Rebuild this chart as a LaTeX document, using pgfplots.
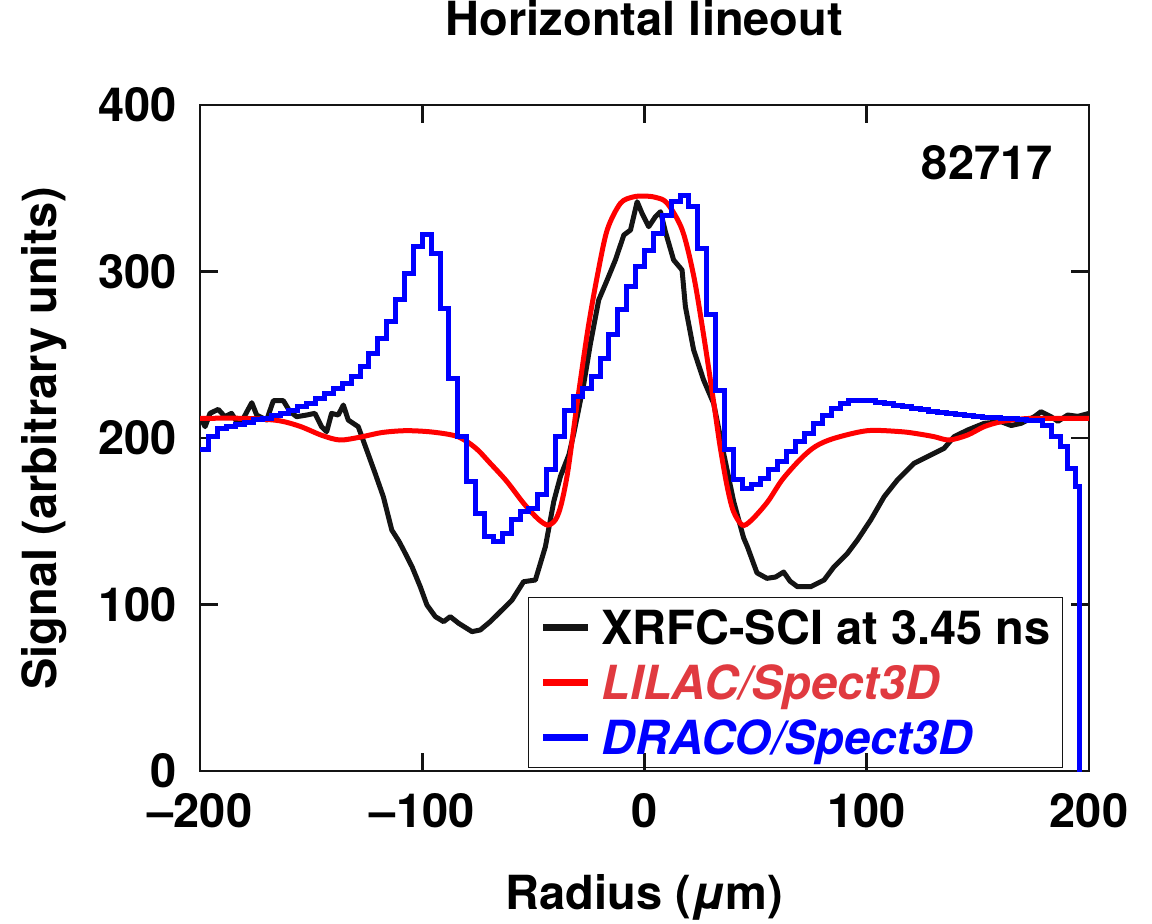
\documentclass[border=0pt]{standalone}
\usepackage{fontspec}
\setmainfont{TeX Gyre Heros}
\usepackage{pgfplots}
\pgfplotsset{compat=1.18}
\definecolor{cblue}{RGB}{0,0,255}
\definecolor{cred}{RGB}{255,0,0}
\definecolor{ctxtred}{RGB}{224,58,64}
\definecolor{cblack}{RGB}{20,20,20}
\newcommand{\F}{\fontsize{23.5}{28}\selectfont\bfseries}
\begin{document}
\begin{tikzpicture}
\begin{axis}[name=ax, scale only axis, width=444.5pt, height=333pt,
 xmin=-200, xmax=200, ymin=0, ymax=400,
 xtick={-200,-100,0,100,200},
 xticklabels={\textendash200,\textendash100,0,100,200},
 ytick={0,100,200,300,400},
 tick align=inside, major tick length=9pt,
 axis line style={line width=1.3pt, draw=cblack},
 every tick/.style={line width=1.3pt, draw=cblack},
 /pgf/number format/assume math mode=true,
 ticklabel style={font=\F},
 xticklabel style={anchor=north, inner sep=0pt, yshift=-11pt},
 yticklabel style={anchor=east, inner sep=0pt, xshift=-11.5pt},
 title={Horizontal lineout},
 title style={font=\F, at={(axis description cs:0.5,1.087)}, anchor=base},
 xlabel={Radius ({\itshape μ}m)},
 xlabel style={font=\F, at={(axis description cs:0.5,-0.2087)}, anchor=base},
 ylabel={Signal (arbitrary units)},
 ylabel style={font=\F, at={(axis description cs:-0.1757,0.5)}, anchor=center},
 legend style={at={(rel axis cs:0.9707,0.0045)}, anchor=south east, draw=cblack,
   fill=none, font=\F, inner xsep=6pt, inner ysep=6.5pt,
   row sep=10.5pt, nodes={inner sep=0pt, text height=17pt, text depth=0pt},
   /tikz/every odd column/.append style={column sep=5pt}},
 legend cell align=left,
 legend image code/.code={\draw[#1, line width=3.2pt] (0pt,0pt) -- (22.5pt,0pt);},
]
% XRFC-SCI data
\addplot[cblack, line width=2.5pt, line join=round] coordinates {
(-200,212) (-199.2,210.8) (-197.7,206.8) (-195.5,214.8) (-191.8,217.2) (-188.8,212.8)
(-185.8,214.8) (-183.5,209.8) (-180.5,211.8) (-176.7,221.2) (-174.5,213.8) (-170,210.8)
(-167,222.4) (-162.5,222.4) (-159.5,215.8) (-156.5,212.8) (-152,213.8) (-148.3,214.8)
(-145.3,206.8) (-143,203.8) (-140.8,214.8) (-137.8,213.8) (-135.5,219.8) (-133.3,210.8)
(-128.8,206.8) (-125,192.8) (-121.2,178.8) (-117.5,164.7) (-113.7,144.7) (-110.5,138)
(-108.4,132.7) (-104.6,122.7) (-100.9,110.7) (-97.9,99.7) (-94.1,92.7) (-90.4,89.7)
(-87.4,92.7) (-83.6,88.7) (-77.6,83.7) (-73.9,84.7) (-69.4,89.7) (-64.1,96.7)
(-59.6,102.7) (-54.4,113.7) (-49.1,114.7) (-44.6,134.7) (-40.8,162) (-37.8,177)
(-34,190) (-31.8,202.8) (-27.3,232.8) (-24.3,256.9) (-20.6,282.9) (-16.8,294.9)
(-13.1,306.9) (-9.3,321.9) (-6.3,324.9) (-3.3,341.9) (-1.1,334.9) (1.9,326.9)
(4.9,332.9) (7.2,335.9) (9.4,323.9) (13.1,306.9) (16.9,300.9) (18.4,278.9)
(22.1,252.9) (26.6,234.8) (31.1,220.8) (35.6,190.8) (40.1,162) (44.6,140)
(46.3,134.7) (50.6,119) (55.1,115.7) (59,116.5) (62.6,119.5) (65.5,114)
(68.8,110.7) (74.8,110.7) (80.8,114.7) (85.3,122.7) (91.3,130.7) (95.8,138.7)
(101.8,150.8) (107.8,164.7) (113.8,174.8) (121.3,184.8) (128.8,189.8) (134.8,193.8)
(139.3,200.8) (145.4,204.8) (152.8,208.8) (160.4,209.8) (165,207.5) (169.4,208.8)
(175.4,212.8) (178.4,215.8) (182.9,212.8) (186,210) (190.4,213.8) (195,213) (200.1,214.8)
};
\addlegendentry{XRFC-SCI at 3.45 ns}
% LILAC/Spect3D
\addplot[cred, line width=2.5pt, smooth, tension=0.5] coordinates {
(-200,211.8) (-180,211.8) (-165,210.5) (-155,207) (-145,201.5) (-137,198.8)
(-128,200.5) (-118,203.3) (-107,204.4) (-95,203.5) (-84,200.8) (-76,194)
(-69.4,184.8) (-62,174) (-54.4,160.8) (-48,151.5) (-43.5,147.7) (-40,151)
(-37.5,160) (-34.5,180) (-30.3,220.8) (-25.5,265) (-21.3,296.9) (-16.8,324.9)
(-10.8,341) (-5,344.8) (0,345.3) (5,344.5) (10.2,341) (17,324.9) (22.2,296.9)
(26.7,260.9) (31.2,220.8) (34,195) (37.2,170.8) (40,156) (44,147.7) (48,150.5)
(55.3,161.5) (62,175) (70.3,187.5) (77,195) (85.3,199.8) (100.3,204.4) (115.3,203.8)
(123,202.5) (130.3,200.8) (137.1,198.8) (145.4,201.8) (152.8,206.8) (160.4,209.8)
(168,211.2) (175.4,211.8) (200,211.8)
};
\addlegendentry{\textcolor{ctxtred}{\itshape LILAC/Spect3D}}
% DRACO/Spect3D
\addplot[cblue, line width=2.5pt, const plot] coordinates {
(-200,192.8) (-196,200.8) (-192,205.8) (-188,207) (-184,208) (-180,209.5) (-176,211)
(-172,212) (-168,213.5) (-164,215) (-160,216.5) (-156,218.8) (-152,221) (-148,223.8)
(-144,226.8) (-140,229.8) (-136,232.8) (-132,236.8) (-128,242.8) (-124,250.8)
(-120,259.8) (-116,269.9) (-112,282.9) (-108,298.5) (-104,314.9) (-100,322.5)
(-96,310.9) (-92,277.9) (-88,235.8) (-84,200.8) (-80,173.7) (-76,154.8) (-72,140.7)
(-68,137.7) (-64,142.7) (-60,151) (-56,156) (-52,157.7) (-48,165.8) (-44,180.8)
(-40,200.8) (-36,216.8) (-32,224.8) (-28,229.8) (-24,236.8) (-20,247.8) (-16,261.9)
(-12,276.9) (-8,290.9) (-4,302.9) (0,312.9) (4,322.9) (8,333.9) (12,341.9) (16,345.9)
(20,338.9) (24,313.9) (28,273.9) (32,228.8) (36,192.8) (40,174.8) (44,169.7)
(48,171.8) (52,175.8) (56,180.8) (60,185.8) (64,191.8) (68,197.8) (72,202.8)
(76,208.8) (80,213.8) (84,217.8) (88,220.8) (92,222.4) (96,222.4) (100,222.4)
(104,221.5) (108,220.8) (112,219.5) (116,218.8) (120,218) (124,217) (128,216.2)
(132,215.5) (136,214.8) (140,214.2) (144,213.5) (148,213) (152,212.6) (156,212.2)
(160,211.8) (164,211.5) (168,211.2) (172,210.8) (179,207.8) (183,200.8) (187,194.8)
(190.5,181.8) (194,170.8) (195.6,-20)
};
\addlegendentry{\textcolor{cblue}{\itshape DRACO/Spect3D}}
\node[font=\F, anchor=base east, inner sep=0pt] at (rel axis cs:0.9595,0.8874) {82717};
\end{axis}
\pgfresetboundingbox
\path ([shift={(-100pt,-76pt)}]ax.south west) rectangle ([shift={(31.5pt,52.5pt)}]ax.north east);
\end{tikzpicture}
\end{document}
